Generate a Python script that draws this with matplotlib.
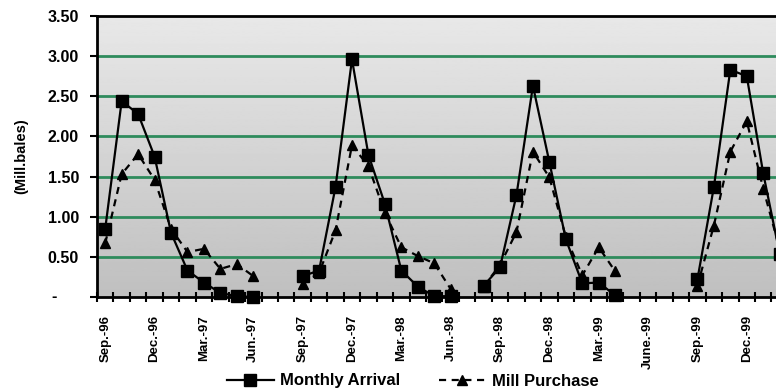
import numpy as np
import matplotlib
matplotlib.use("Agg")
import matplotlib.pyplot as plt
from matplotlib.lines import Line2D

plt.rcParams['font.family'] = ['Liberation Sans', 'DejaVu Sans']
plt.rcParams['font.weight'] = 'bold'

nan = np.nan

# months Sep-96 .. Feb-00, one label shown every quarter
months = ["Sep.-96", "Oct.-96", "Nov.-96", "Dec.-96", "Jan.-97", "Feb.-97", "Mar.-97",
          "Apr.-97", "May.-97", "Jun.-97", "Jul.-97", "Aug.-97",
          "Sep.-97", "Oct.-97", "Nov.-97", "Dec.-97", "Jan.-98", "Feb.-98", "Mar.-98",
          "Apr.-98", "May.-98", "Jun.-98", "Jul.-98", "Aug.-98",
          "Sep.-98", "Oct.-98", "Nov.-98", "Dec.-98", "Jan.-99", "Feb.-99", "Mar.-99",
          "Apr.-99", "May.-99", "June.-99", "Jul.-99", "Aug.-99",
          "Sep.-99", "Oct.-99", "Nov.-99", "Dec.-99", "Jan.-00", "Feb.-00"]

arrival = [0.85, 2.44, 2.28, 1.75, 0.80, 0.33, 0.18, 0.05, 0.01, 0.00, nan, nan,
           0.26, 0.33, 1.37, 2.96, 1.77, 1.16, 0.33, 0.13, 0.01, 0.01, nan,
           0.14, 0.37, 1.27, 2.63, 1.68, 0.72, 0.17, 0.18, 0.02, nan, nan, nan, nan,
           0.22, 1.37, 2.83, 2.75, 1.54, 0.54]

purchase = [0.67, 1.53, 1.78, 1.46, 0.85, 0.56, 0.60, 0.35, 0.41, 0.26, nan, nan,
            0.16, 0.30, 0.83, 1.89, 1.63, 1.05, 0.62, 0.51, 0.42, 0.10, nan,
            0.13, 0.40, 0.81, 1.81, 1.49, 0.75, 0.27, 0.62, 0.32, nan, nan, nan, nan,
            0.14, 0.89, 1.81, 2.19, 1.35, 0.60]

yticks = [0, 0.5, 1.0, 1.5, 2.0, 2.5, 3.0, 3.5]

x = np.arange(len(months))

fig = plt.figure(figsize=(7.76, 3.92), dpi=100)
ax = fig.add_axes([97 / 776, 95 / 392, 1 - 97 / 776, 281 / 392])

# grey gradient plot area
grad = np.linspace(0.91, 0.75, 256).reshape(-1, 1)
ax.imshow(grad, cmap='gray', vmin=0, vmax=1, aspect='auto', extent=[0, 1, 0, 1],
          transform=ax.transAxes, zorder=0)

for y in yticks[1:-1]:
    ax.axhline(y, color='#2e8b5c', lw=2, zorder=1)

ax.plot(x, purchase, color='black', lw=1.6, dashes=(3.2, 2.5), marker='^', ms=7,
        zorder=3, clip_on=False)
ax.plot(x, arrival, color='black', lw=1.6, marker='s', ms=8.6, zorder=4, clip_on=False)

ax.set_yticks(yticks)
ax.set_yticklabels([''] + ['%.2f' % v for v in yticks[1:]], fontsize=11.5, fontweight='bold')
ax.annotate('-', xy=(0, 0), xycoords=('axes fraction', 'data'), xytext=(-31, 0),
            textcoords='offset points', ha='center', va='center', fontsize=11.5,
            fontweight='bold')
ax.tick_params(axis='y', direction='out', length=5, width=1.5, pad=8)

ax.set_xticks(x[::3])
ax.set_xticklabels(months[::3], rotation=90, fontsize=9.5, fontweight='bold')
ax.set_xticks(np.arange(-0.5, len(months)), minor=True)
ax.tick_params(axis='x', which='major', length=0, pad=13)
ax.tick_params(axis='x', which='minor', direction='inout', length=7, width=1.5)

# limits after the ticks, so the tick lists do not widen the view
ax.set_xlim(-0.5, 679 / 16.45 - 0.5)
ax.set_ylim(0, 3.5)

ax.set_ylabel('(Mill.bales)', fontsize=10.5, fontweight='bold')
ax.yaxis.set_label_coords(-69 / 679, 0.5)

for side in ['left', 'bottom', 'top']:
    ax.spines[side].set_linewidth(2)
ax.spines['right'].set_visible(False)

handles = [Line2D([], [], color='black', lw=1.6, marker='s', ms=8.6),
           Line2D([], [], color='black', lw=1.6, dashes=(3.2, 2.5), marker='^', ms=7)]
fig.legend(handles, ['Monthly Arrival', 'Mill Purchase'], loc='center',
           bbox_to_anchor=(413 / 776, 1 - 381 / 392), ncol=2, frameon=False,
           prop={'size': 12, 'weight': 'bold'}, handlelength=2.8, handletextpad=0.4,
           columnspacing=2.3)

fig.savefig('out.png', dpi=100)
